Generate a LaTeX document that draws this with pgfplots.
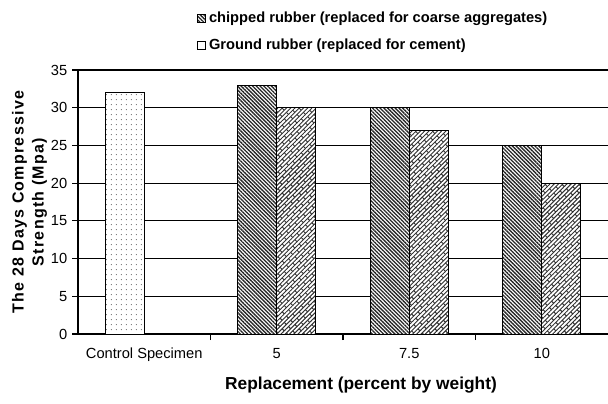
\documentclass[border=0pt]{standalone}
\usepackage{pgfplots}
\pgfplotsset{compat=1.18}
\usepackage{fontspec}
\setmainfont{Liberation Sans}
\newfontfamily\ylabfont[LetterSpace=8]{Liberation Sans}
\usetikzlibrary{patterns,patterns.meta}

% diagonal bricks for the ground-rubber bars
\pgfdeclarepattern{
  name=slantbricks,
  type=uncolored,
  bottom left={\pgfpoint{-0.5pt}{-0.5pt}},
  top right={\pgfpoint{9.5pt}{5pt}},
  tile size={\pgfpoint{9pt}{4.5pt}},
  tile transformation={\pgftransformrotate{45}},
  code={
    \pgfsetlinewidth{0.7pt}
    \pgfpathmoveto{\pgfpoint{0pt}{0pt}}\pgfpathlineto{\pgfpoint{9pt}{0pt}}
    \pgfpathmoveto{\pgfpoint{0pt}{2.25pt}}\pgfpathlineto{\pgfpoint{9pt}{2.25pt}}
    \pgfpathmoveto{\pgfpoint{0pt}{0pt}}\pgfpathlineto{\pgfpoint{0pt}{2.25pt}}
    \pgfpathmoveto{\pgfpoint{4.5pt}{2.25pt}}\pgfpathlineto{\pgfpoint{4.5pt}{4.5pt}}
    \pgfusepath{stroke}
  }
}

\tikzset{
  chipfill/.style={fill=white, postaction={pattern={Lines[angle=-45,distance=2pt,line width=1pt]}, pattern color=black!85}},
  groundfill/.style={fill=white, postaction={pattern=slantbricks, pattern color=black!80}},
  ctrlfill/.style={fill=white, postaction={pattern={Dots[distance=4pt,radius=0.45pt]}, pattern color=black!55}},
}

\begin{document}
\begin{tikzpicture}
\begin{axis}[
  scale only axis, width=397.5pt, height=198pt,
  xmin=-0.5, xmax=3.5, ymin=0, ymax=35,
  ytick={0,5,...,35},
  xtick={0.5,1.5,2.5}, xticklabels={},
  extra x ticks={0,1,2,3},
  extra x tick labels={Control Specimen,5,7.5,10},
  extra x tick style={major tick length=0pt},
  axis x line*=bottom, axis y line*=left,
  axis line style={-, line width=0.9pt},
  tick align=outside, major tick length=4.5pt,
  tick style={black, line width=0.8pt},
  ymajorgrids, grid style={black, line width=0.8pt},
  /pgf/number format/assume math mode=true,
  tick label style={font=\fontsize{11}{13}\selectfont},
  xticklabel style={yshift=-7pt},
  xlabel={Replacement (percent by weight)},
  xlabel style={font=\bfseries\fontsize{13}{15}\selectfont, at={(rel axis cs:0.5,0)}, anchor=center, yshift=-38pt, xshift=13.5pt},
  ylabel={The 28 Days Compressive\\Strength (Mpa)},
  every axis y label/.style={at={(axis description cs:-0.0915,0.5)}, anchor=center, rotate=90,
    font=\ylabfont\bfseries\fontsize{12}{15}\selectfont, align=center},
  ybar, bar width=29.25pt,
  legend style={at={(rel axis cs:0.217,1.24)}, anchor=north west, draw=none, fill=none,
    font=\bfseries\fontsize{11}{12}\selectfont, row sep=6.5pt,
    /tikz/every even column/.append style={column sep=2pt}},
  legend cell align=left,
]
\addlegendimage{legend image code/.code={\draw[chipfill, draw=black, line width=0.6pt] (0pt,-3pt) rectangle (6pt,3pt);}}
\addlegendentry{chipped rubber (replaced for coarse aggregates)}
\addlegendimage{legend image code/.code={\draw[fill=white, draw=black, line width=0.8pt] (0pt,-3pt) rectangle (6pt,3pt);}}
\addlegendentry{Ground rubber (replaced for cement)}
\addplot[ctrlfill, draw=black, line width=0.7pt, bar shift=-14.625pt, forget plot]
  coordinates {(0,32)};
\addplot[chipfill, draw=black, line width=0.7pt, bar shift=-14.625pt, forget plot]
  coordinates {(1,33) (2,30) (3,25)};
\addplot[groundfill, draw=black, line width=0.7pt, bar shift=14.625pt, forget plot]
  coordinates {(1,30) (2,27) (3,20)};
\end{axis}
\pgfresetboundingbox
\path[use as bounding box] ([xshift=-58.5pt,yshift=-51.75pt]current axis.south west) rectangle ([yshift=52.5pt]current axis.north east);
\end{tikzpicture}
\end{document}
